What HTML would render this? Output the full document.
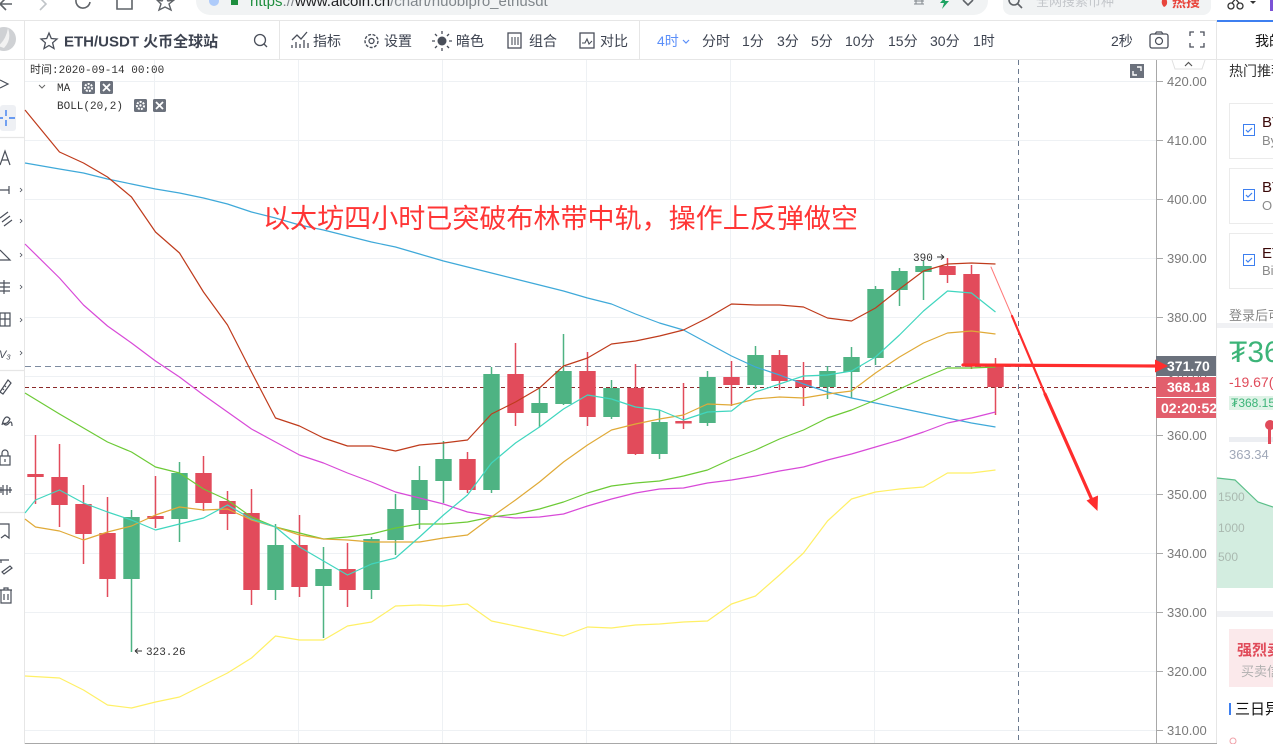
<!DOCTYPE html>
<html>
<head>
<meta charset="utf-8">
<style>
html,body{margin:0;padding:0;background:#fff;width:1273px;height:744px;overflow:hidden}
svg{display:block}
.ui{font-family:"Liberation Sans","Noto Sans CJK SC",sans-serif}
.mono{font-family:"Liberation Mono","Noto Sans CJK SC",monospace}
</style>
</head>
<body>
<svg width="1273" height="744" viewBox="0 0 1273 744" xmlns="http://www.w3.org/2000/svg">
<rect width="1273" height="744" fill="#fff"/>

<!-- ===== Browser bar ===== -->
<g>
  <path d="M0,4 L6,-2 M0,4 L6,10 M0,4 L12,4" stroke="#5f6368" stroke-width="1.6" fill="none"/>
  <path d="M40,-2 L46,4 L40,10" stroke="#c0c4c8" stroke-width="1.6" fill="none"/>
  <path d="M76,0 A7,7 0 1 0 90,2" stroke="#5f6368" stroke-width="1.6" fill="none"/>
  <path d="M117,-2 L117,9 L132,9 L132,-2" stroke="#5f6368" stroke-width="1.6" fill="none"/>
  <path d="M157,0 L162,1 L165,-4 L168,1 L174,0 L169,4 L171,10 L165,7 L159,10 L161,4 Z" stroke="#5f6368" stroke-width="1.4" fill="none"/>
  <rect x="196" y="-14" width="792" height="29" rx="14" fill="#f1f3f4"/>
  <circle cx="214" cy="1" r="5" fill="#aecbfa"/>
  <rect x="231" y="-4" width="7" height="9" fill="#1e8e3e"/>
  <text x="250" y="6" font-size="15" class="ui"><tspan fill="#1e8e3e">https</tspan><tspan fill="#80868b">://</tspan><tspan fill="#202124">www.aicoin.cn</tspan><tspan fill="#80868b">/chart/huobipro_ethusdt</tspan></text>
  <path d="M914,1 h10 M914,4 h10 M916,-2 v6 M922,-2 v6" stroke="#80868b" stroke-width="1"/>
  <path d="M946,-4 L940,3 L944,3 L942,9 L949,1 L945,1 Z" fill="#1ea362"/>
  <path d="M963,0 L968,5 L973,0" stroke="#5f6368" stroke-width="1.6" fill="none"/>
  <rect x="1003" y="-14" width="208" height="29" rx="8" fill="#f1f3f4"/>
  <circle cx="1014" cy="0" r="5" stroke="#5f6368" stroke-width="1.6" fill="none"/>
  <path d="M1018,4 L1022,8" stroke="#5f6368" stroke-width="1.6"/>
  <text x="1036" y="6" font-size="13" fill="#c4c7cb" class="ui">全网搜索币种</text>
  <text x="1172" y="7" font-size="14" font-weight="bold" fill="#e8453c" class="ui">热搜</text>
  <path d="M1163,-2 q-3,5 1,9 q5,-2 2,-9 Z" fill="#e8453c"/>
  <circle cx="1231" cy="6" r="3" stroke="#333" stroke-width="1.3" fill="none"/>
  <circle cx="1240" cy="6" r="3" stroke="#333" stroke-width="1.3" fill="none"/>
  <path d="M1232,3 L1238,-4 M1239,3 L1233,-4" stroke="#333" stroke-width="1.3"/>
  <path d="M1250,1 L1256,1 L1253,4 Z" fill="#333"/>
  <rect x="1270" y="-5" width="3" height="16" fill="#7b52d6"/>
</g>

<!-- ===== Toolbar ===== -->
<g>
  <line x1="0" y1="20.5" x2="1273" y2="20.5" stroke="#e6e6e6"/>
  <line x1="0" y1="59.5" x2="1217" y2="59.5" stroke="#e6e6e6"/>
  <line x1="24.5" y1="20" x2="24.5" y2="744" stroke="#e6e6e6"/>
  <line x1="279.5" y1="20" x2="279.5" y2="59" stroke="#e6e6e6"/>
  <line x1="639.5" y1="20" x2="639.5" y2="59" stroke="#e6e6e6"/>
  <line x1="1216.5" y1="20" x2="1216.5" y2="744" stroke="#e6e6e6"/>
  <!-- logo -->
  <circle cx="4" cy="39" r="12" fill="#cfd1d4"/>
  <path d="M-2,46 Q6,40 8,28 Q12,40 4,48 Z" fill="#f2f2f2"/>
  <!-- star -->
  <path d="M49,33 L51.3,38.5 L57,39 L52.6,42.8 L54,48.5 L49,45.5 L44,48.5 L45.4,42.8 L41,39 L46.7,38.5 Z" stroke="#4a4f5a" stroke-width="1.3" fill="none"/>
  <text x="64" y="46.5" font-size="15" font-weight="bold" fill="#3d4350" class="ui">ETH/USDT 火币全球站</text>
  <circle cx="260" cy="40" r="5.5" stroke="#4a4f5a" stroke-width="1.3" fill="none"/>
  <path d="M264,44 L267,47" stroke="#4a4f5a" stroke-width="1.3"/>
  <!-- 指标 -->
  <path d="M292,40 L297,35 L301,39 L307,32 M292,48 v-3 M296,48 v-6 M300,48 v-4 M304,48 v-8 M308,48 v-5" stroke="#4a4f5a" stroke-width="1.3" fill="none"/>
  <text x="313" y="46" font-size="14" fill="#3d4350" class="ui">指标</text>
  <!-- 设置 -->
  <circle cx="371.5" cy="41" r="6.5" stroke="#4a4f5a" stroke-width="1.4" fill="none" stroke-dasharray="3 1.5"/>
  <circle cx="371.5" cy="41" r="2.5" stroke="#4a4f5a" stroke-width="1.3" fill="none"/>
  <text x="384" y="46" font-size="14" fill="#3d4350" class="ui">设置</text>
  <!-- 暗色 -->
  <circle cx="442" cy="41" r="4.5" fill="#4a4f5a"/>
  <path d="M442,31 v3 M442,48 v3 M432,41 h3 M449,41 h3 M435,34 l2,2 M447,46 l2,2 M449,34 l-2,2 M437,46 l-2,2" stroke="#4a4f5a" stroke-width="1.3"/>
  <text x="456" y="46" font-size="14" fill="#3d4350" class="ui">暗色</text>
  <!-- 组合 -->
  <rect x="508" y="33" width="13" height="15" stroke="#4a4f5a" stroke-width="1.3" fill="none"/>
  <path d="M512,37 v8 M515,37 v8 M518,37 v8" stroke="#4a4f5a" stroke-width="1.1"/>
  <text x="529" y="46" font-size="14" fill="#3d4350" class="ui">组合</text>
  <!-- 对比 -->
  <rect x="580" y="33" width="14" height="15" stroke="#4a4f5a" stroke-width="1.3" fill="none"/>
  <path d="M582,43 L585,43 L587,39 L589,44 L592,41" stroke="#4a4f5a" stroke-width="1.1" fill="none"/>
  <text x="600" y="46" font-size="14" fill="#3d4350" class="ui">对比</text>
  <!-- timeframes -->
  <text x="657" y="46" font-size="14" fill="#5b8ff9" class="ui">4时</text>
  <path d="M683,40 L686,43 L689,40" stroke="#5b8ff9" stroke-width="1.2" fill="none"/>
  <g font-size="14" fill="#3d4350" class="ui">
    <text x="702" y="46">分时</text>
    <text x="742" y="46">1分</text>
    <text x="777" y="46">3分</text>
    <text x="811" y="46">5分</text>
    <text x="845" y="46">10分</text>
    <text x="888" y="46">15分</text>
    <text x="930" y="46">30分</text>
    <text x="973" y="46">1时</text>
    <text x="1111" y="46">2秒</text>
  </g>
  <rect x="1150" y="34" width="18" height="14" rx="2" stroke="#4a4f5a" stroke-width="1.3" fill="none"/>
  <circle cx="1159" cy="41" r="3.5" stroke="#4a4f5a" stroke-width="1.2" fill="none"/>
  <path d="M1155,34 l1.5,-2 h5 l1.5,2" stroke="#4a4f5a" stroke-width="1.2" fill="none"/>
  <path d="M1190,36 v-4 h4 M1204,36 v-4 h-4 M1190,43 v4 h4 M1204,43 v4 h-4" stroke="#4a4f5a" stroke-width="1.3" fill="none"/>
  <!-- right panel tab -->
  <rect x="1217" y="20" width="56" height="2" fill="#3d7ff0"/>
  <text x="1255" y="46" font-size="14" fill="#111" class="ui">我的</text>
</g>

<!-- ===== Sidebar ===== -->
<g stroke="#4a4f5a" stroke-width="1.2" fill="none">
  <path d="M0,80 L8,84 L0,88"/>
  <rect x="0" y="105" width="16" height="26" rx="3" fill="#eef0f4" stroke="none"/>
  <path d="M6,110 v6 M6,120 v6 M0,118 h3 M9,118 h6" stroke="#3d7ff0" stroke-width="1.4"/>
  <line x1="0" y1="137.5" x2="24" y2="137.5" stroke="#e6e6e6"/>
  <path d="M0,165 L5,151 L10,165 M2,160 h6"/>
  <path d="M0,190 h9 M9,186 v8"/><path d="M20,188 l2,2 l-2,2" stroke-width="0.8"/>
  <path d="M0,218 l8,-6 M2,222 l8,-6 M4,226 l8,-6"/><path d="M20,219 l2,2 l-2,2" stroke-width="0.8"/>
  <path d="M0,260 L10,260 L0,250"/><path d="M20,253 l2,2 l-2,2" stroke-width="0.8"/>
  <path d="M0,283 h10 M0,287 h10 M0,291 h10 M4,280 v14"/><path d="M20,285 l2,2 l-2,2" stroke-width="0.8"/>
  <rect x="0" y="313" width="10" height="13"/><path d="M5,313 v13 M0,319 h10"/><path d="M20,318 l2,2 l-2,2" stroke-width="0.8"/>
  <text x="-1" y="358" font-size="11" fill="#4a4f5a" stroke="none" class="ui" font-style="italic">V₃</text><path d="M20,351 l2,2 l-2,2" stroke-width="0.8"/>
  <line x1="0" y1="370.5" x2="24" y2="370.5" stroke="#e6e6e6"/>
  <path d="M0,392 L8,380 L11,383 L3,394 Z M2,388 l2,2 M4,385 l2,2"/>
  <path d="M2,425 q3,-12 8,-6 q-3,6 -7,4 M3,423 q3,4 6,0 q3,-3 3,3"/>
  <rect x="0" y="456" width="10" height="9"/><path d="M2,456 v-3 a3,3 0 0 1 6,0 v3 M5,459 v3"/>
  <path d="M0,490 h12 M3,485 v10 M7,485 v10 M1,487 v6 M10,487 v6"/>
  <line x1="0" y1="512.5" x2="24" y2="512.5" stroke="#e6e6e6"/>
  <path d="M0,524 h9 v14 l-4,-3 l-4,3"/>
  <path d="M0,560 h9 M1,563 v-3 M2,572 l8,-6 l2,2 l-8,6 Z"/>
  <path d="M0,590 h12 M4,590 v-2 h4 v2 M1,590 v13 h10 v-13 M4,594 v6 M8,594 v6"/>
</g>

<!-- ===== Chart grid ===== -->
<g stroke="#eef1f4" stroke-width="1">
  <line x1="25" y1="81.5" x2="1156" y2="81.5"/>
  <line x1="25" y1="140.5" x2="1156" y2="140.5"/>
  <line x1="25" y1="199.5" x2="1156" y2="199.5"/>
  <line x1="25" y1="258.5" x2="1156" y2="258.5"/>
  <line x1="25" y1="317.5" x2="1156" y2="317.5"/>
  <line x1="25" y1="376.5" x2="1156" y2="376.5"/>
  <line x1="25" y1="435.5" x2="1156" y2="435.5"/>
  <line x1="25" y1="494.5" x2="1156" y2="494.5"/>
  <line x1="25" y1="553.5" x2="1156" y2="553.5"/>
  <line x1="25" y1="612.5" x2="1156" y2="612.5"/>
  <line x1="25" y1="671.5" x2="1156" y2="671.5"/>
  <line x1="25" y1="730.5" x2="1156" y2="730.5"/>
  <line x1="154.5" y1="60" x2="154.5" y2="743"/>
  <line x1="298.5" y1="60" x2="298.5" y2="743"/>
  <line x1="442.5" y1="60" x2="442.5" y2="743"/>
  <line x1="586.5" y1="60" x2="586.5" y2="743"/>
  <line x1="730.5" y1="60" x2="730.5" y2="743"/>
  <line x1="874.5" y1="60" x2="874.5" y2="743"/>
</g>
<line x1="25" y1="743.5" x2="1217" y2="743.5" stroke="#a8a8a8"/>
<line x1="1156.5" y1="60" x2="1156.5" y2="744" stroke="#a8a8a8"/>
<!-- crosshair / price lines -->
<line x1="1018.5" y1="60" x2="1018.5" y2="743" stroke="#6b7a8f" stroke-dasharray="5 4"/>
<line x1="25" y1="366.5" x2="1156" y2="366.5" stroke="#7d8ba0" stroke-dasharray="6 4"/>
<line x1="25" y1="387.5" x2="1156" y2="387.5" stroke="#8b2a2a" stroke-dasharray="4 3"/>

<!-- ===== Candles ===== -->
<g stroke="#e24b5b" fill="#e24b5b" stroke-width="1.5">
  <line x1="35.5" y1="435" x2="35.5" y2="504"/><rect x="27.3" y="474" width="16.4" height="3" stroke="none"/>
  <line x1="59.5" y1="444" x2="59.5" y2="527"/><rect x="51.3" y="477" width="16.4" height="28" stroke="none"/>
  <line x1="83.5" y1="485" x2="83.5" y2="564"/><rect x="75.3" y="504" width="16.4" height="30" stroke="none"/>
  <line x1="107.5" y1="497" x2="107.5" y2="597"/><rect x="99.3" y="533" width="16.4" height="46" stroke="none"/>
  <line x1="155.5" y1="476" x2="155.5" y2="528"/><rect x="147.3" y="516" width="16.4" height="3" stroke="none"/>
  <line x1="203.5" y1="456" x2="203.5" y2="511"/><rect x="195.3" y="473" width="16.4" height="30" stroke="none"/>
  <line x1="227.5" y1="491" x2="227.5" y2="530"/><rect x="219.3" y="501" width="16.4" height="13" stroke="none"/>
  <line x1="251.5" y1="489" x2="251.5" y2="605"/><rect x="243.3" y="513" width="16.4" height="77" stroke="none"/>
  <line x1="299.5" y1="515" x2="299.5" y2="597"/><rect x="291.3" y="545" width="16.4" height="42" stroke="none"/>
  <line x1="347.5" y1="543" x2="347.5" y2="607"/><rect x="339.3" y="569" width="16.4" height="21" stroke="none"/>
  <line x1="467.5" y1="452" x2="467.5" y2="493"/><rect x="459.3" y="459" width="16.4" height="31" stroke="none"/>
  <line x1="515.5" y1="343" x2="515.5" y2="426"/><rect x="507.3" y="374" width="16.4" height="39" stroke="none"/>
  <line x1="587.5" y1="352" x2="587.5" y2="426"/><rect x="579.3" y="371" width="16.4" height="46" stroke="none"/>
  <line x1="635.5" y1="364" x2="635.5" y2="455"/><rect x="627.3" y="388" width="16.4" height="66" stroke="none"/>
  <line x1="683.5" y1="383" x2="683.5" y2="429"/><rect x="675.3" y="421" width="16.4" height="2.5" stroke="none"/>
  <line x1="731.5" y1="361" x2="731.5" y2="406"/><rect x="723.3" y="377" width="16.4" height="8" stroke="none"/>
  <line x1="779.5" y1="350" x2="779.5" y2="390"/><rect x="771.3" y="355" width="16.4" height="26" stroke="none"/>
  <line x1="803.5" y1="362" x2="803.5" y2="406"/><rect x="795.3" y="380" width="16.4" height="7" stroke="none"/>
  <line x1="947.5" y1="258" x2="947.5" y2="283"/><rect x="939.3" y="266" width="16.4" height="9" stroke="none"/>
  <line x1="971.5" y1="265" x2="971.5" y2="369"/><rect x="963.3" y="274" width="16.4" height="90" stroke="none"/>
  <line x1="995.5" y1="358" x2="995.5" y2="415"/><rect x="987.3" y="366" width="16.4" height="21" stroke="none"/>
</g>
<g stroke="#4eb383" fill="#4eb383" stroke-width="1.5">
  <line x1="131.5" y1="510" x2="131.5" y2="652"/><rect x="123.3" y="517" width="16.4" height="62" stroke="none"/>
  <line x1="179.5" y1="462" x2="179.5" y2="542"/><rect x="171.3" y="473" width="16.4" height="46" stroke="none"/>
  <line x1="275.5" y1="524" x2="275.5" y2="600"/><rect x="267.3" y="545" width="16.4" height="45" stroke="none"/>
  <line x1="323.5" y1="547" x2="323.5" y2="638"/><rect x="315.3" y="569" width="16.4" height="17" stroke="none"/>
  <line x1="371.5" y1="537" x2="371.5" y2="599"/><rect x="363.3" y="539" width="16.4" height="51" stroke="none"/>
  <line x1="395.5" y1="494" x2="395.5" y2="555"/><rect x="387.3" y="509" width="16.4" height="31" stroke="none"/>
  <line x1="419.5" y1="466" x2="419.5" y2="529"/><rect x="411.3" y="480" width="16.4" height="30" stroke="none"/>
  <line x1="443.5" y1="441" x2="443.5" y2="503"/><rect x="435.3" y="459" width="16.4" height="22" stroke="none"/>
  <line x1="491.5" y1="367" x2="491.5" y2="493"/><rect x="483.3" y="374" width="16.4" height="116" stroke="none"/>
  <line x1="539.5" y1="388" x2="539.5" y2="427"/><rect x="531.3" y="403" width="16.4" height="10" stroke="none"/>
  <line x1="563.5" y1="334" x2="563.5" y2="405"/><rect x="555.3" y="371" width="16.4" height="33" stroke="none"/>
  <line x1="611.5" y1="380" x2="611.5" y2="419"/><rect x="603.3" y="388" width="16.4" height="29" stroke="none"/>
  <line x1="659.5" y1="410" x2="659.5" y2="459"/><rect x="651.3" y="422" width="16.4" height="32" stroke="none"/>
  <line x1="707.5" y1="371" x2="707.5" y2="426"/><rect x="699.3" y="377" width="16.4" height="46" stroke="none"/>
  <line x1="755.5" y1="346" x2="755.5" y2="389"/><rect x="747.3" y="355" width="16.4" height="30" stroke="none"/>
  <line x1="827.5" y1="366" x2="827.5" y2="399"/><rect x="819.3" y="371" width="16.4" height="16" stroke="none"/>
  <line x1="851.5" y1="347" x2="851.5" y2="398"/><rect x="843.3" y="357" width="16.4" height="15" stroke="none"/>
  <line x1="875.5" y1="286" x2="875.5" y2="365"/><rect x="867.3" y="289" width="16.4" height="69" stroke="none"/>
  <line x1="899.5" y1="268" x2="899.5" y2="306"/><rect x="891.3" y="271" width="16.4" height="19" stroke="none"/>
  <line x1="923.5" y1="261" x2="923.5" y2="300"/><rect x="915.3" y="266" width="16.4" height="6" stroke="none"/>
</g>

<!-- ===== Indicator lines ===== -->
<g fill="none" stroke-width="1.2" stroke-linejoin="round">
  <polyline stroke="#fff066" points="25,676 59.5,678 83.5,690 107.5,705 131.5,708 155.5,702 179.5,697 203.5,685 227.5,673 251.5,658 275.5,636 299.5,640 323.5,640 347.5,626 371.5,622 395.5,606 419.5,605 443.5,606 467.5,604 491.5,621 515.5,626 539.5,631 563.5,636 587.5,627 611.5,628 635.5,625 659.5,624 683.5,622 707.5,621 731.5,604 755.5,596 779.5,575 803.5,553 827.5,521 851.5,499 875.5,492 899.5,489 923.5,487 947.5,473 971.5,473 995.5,470"/>
  <polyline stroke="#3fa9d9" points="25,163 59.5,169 83.5,173 107.5,179 131.5,184 155.5,189 179.5,193 203.5,198 227.5,204 251.5,212 275.5,218 299.5,225 323.5,230 347.5,236 371.5,242 395.5,247 419.5,254 443.5,261 467.5,267 491.5,273 515.5,279 539.5,285 563.5,291 587.5,298 611.5,304 635.5,314 659.5,323 683.5,330 707.5,343 731.5,356 755.5,367 779.5,375 803.5,384 827.5,392 851.5,398 875.5,403 899.5,408 923.5,413 947.5,418 971.5,423 995.5,427"/>
  <polyline stroke="#d84ad8" points="25,244 59.5,278 83.5,305 107.5,326 131.5,343 155.5,361 179.5,377 203.5,395 227.5,412 251.5,429 275.5,442 299.5,455 323.5,463 347.5,473 371.5,482 395.5,492 419.5,498 443.5,504 467.5,512 491.5,516 515.5,518 539.5,517 563.5,514 587.5,506 611.5,499 635.5,493 659.5,489 683.5,488 707.5,483 731.5,480 755.5,476 779.5,471 803.5,467 827.5,460 851.5,454 875.5,447 899.5,440 923.5,432 947.5,423 971.5,418 995.5,412"/>
  <polyline stroke="#6cca36" points="25,393 59.5,414 83.5,428 107.5,442 131.5,452 155.5,467 179.5,473 203.5,489 227.5,500 251.5,517 275.5,527 299.5,533 323.5,539 347.5,537 371.5,534 395.5,528 419.5,524 443.5,524 467.5,522 491.5,517 515.5,514 539.5,509 563.5,502 587.5,493 611.5,486 635.5,483 659.5,481 683.5,476 707.5,470 731.5,459 755.5,450 779.5,439 803.5,430 827.5,418 851.5,410 875.5,400 899.5,389 923.5,378 947.5,368 971.5,368 995.5,367"/>
  <polyline stroke="#e0aa38" points="25,519 35.5,527 59.5,531 83.5,540 107.5,532 131.5,526 155.5,515 179.5,507 203.5,510 227.5,509 251.5,520 275.5,527 299.5,535 323.5,539 347.5,540 371.5,542 395.5,542 419.5,542 443.5,538 467.5,535 491.5,517 515.5,500 539.5,482 563.5,462 587.5,445 611.5,430 635.5,424 659.5,419 683.5,415 707.5,404 731.5,405 755.5,399 779.5,397 803.5,398 827.5,394 851.5,391 875.5,373 899.5,357 923.5,343 947.5,333 971.5,331 995.5,334"/>
  <polyline stroke="#40d6bf" points="25,513 35.5,500 59.5,490 83.5,503 107.5,512 131.5,520 155.5,530 179.5,524 203.5,518 227.5,505 251.5,519 275.5,527 299.5,547 323.5,561 347.5,575 371.5,564 395.5,558 419.5,537 443.5,515 467.5,495 491.5,463 515.5,443 539.5,427 563.5,409 587.5,395 611.5,399 635.5,407 659.5,410 683.5,420 707.5,412 731.5,411 755.5,392 779.5,384 803.5,376 827.5,375 851.5,371 875.5,357 899.5,335 923.5,311 947.5,291 971.5,293 995.5,312"/>
  <polyline stroke="#bf3b1c" points="25,110 59.5,152 83.5,163 107.5,177 131.5,197 155.5,232 179.5,253 203.5,292 227.5,325 251.5,372 275.5,418 299.5,426 323.5,438 347.5,446 371.5,446 395.5,451 419.5,445 443.5,443 467.5,440 491.5,414 515.5,402 539.5,388 563.5,366 587.5,358 611.5,344 635.5,341 659.5,336 683.5,330 707.5,318 731.5,304 755.5,305 779.5,305 803.5,307 827.5,318 851.5,321 875.5,308 899.5,289 923.5,271 947.5,264 971.5,263 995.5,264"/>
</g>

<!-- ===== Chart overlays ===== -->
<g class="mono" font-size="11" fill="#333">
  <text x="30" y="73">时间:2020-09-14 00:00</text>
  <path d="M39,85 L42,88 L45,85" stroke="#666" stroke-width="1" fill="none"/>
  <text x="57" y="91">MA</text>
  <text x="57" y="109">BOLL(20,2)</text>
  <text x="146" y="655">323.26</text>
  <path d="M135,651 h7 M135,651 l3,-2.5 M135,651 l3,2.5" stroke="#333" stroke-width="1" fill="none"/>
  <text x="913" y="261">390</text>
  <path d="M937,257 h7 M944,257 l-3,-2.5 M944,257 l-3,2.5" stroke="#333" stroke-width="1" fill="none"/>
</g>
<g>
  <rect x="82" y="81" width="13" height="13" rx="1.5" fill="#6b717c"/>
  <circle cx="88.5" cy="87.5" r="3.6" fill="none" stroke="#fff" stroke-width="2" stroke-dasharray="2 1.2"/>
  <circle cx="88.5" cy="87.5" r="1.2" fill="#fff"/>
  <rect x="100" y="81" width="13" height="13" rx="1.5" fill="#6b717c"/>
  <path d="M103,84 l7,7 M110,84 l-7,7" stroke="#fff" stroke-width="1.8"/>
  <rect x="134" y="99" width="13" height="13" rx="1.5" fill="#6b717c"/>
  <circle cx="140.5" cy="105.5" r="3.6" fill="none" stroke="#fff" stroke-width="2" stroke-dasharray="2 1.2"/>
  <circle cx="140.5" cy="105.5" r="1.2" fill="#fff"/>
  <rect x="153" y="99" width="13" height="13" rx="1.5" fill="#6b717c"/>
  <path d="M156,102 l7,7 M163,102 l-7,7" stroke="#fff" stroke-width="1.8"/>
  <!-- expand icon -->
  <rect x="1130" y="64" width="14" height="14" fill="#6b717c"/>
  <path d="M1133,71 v4 h4 M1141,71 v-4 h-4" stroke="#fff" stroke-width="1.4" fill="none"/>
</g>

<text x="263" y="228" font-size="27" fill="#ff3535" class="ui" textLength="595" lengthAdjust="spacingAndGlyphs">以太坊四小时已突破布林带中轨，操作上反弹做空</text>

<!-- ===== Price axis ===== -->
<path d="M1172,60 L1175,69 L1202,69 L1205,60" stroke="#e0e0e0" fill="#fff"/>
<path d="M1185,66 L1188.5,62.5 L1192,66" stroke="#555" stroke-width="1.2" fill="none"/>
<g stroke="#a8a8a8">
  <line x1="1157" y1="81.5" x2="1163" y2="81.5"/>
  <line x1="1157" y1="140.5" x2="1163" y2="140.5"/>
  <line x1="1157" y1="199.5" x2="1163" y2="199.5"/>
  <line x1="1157" y1="258.5" x2="1163" y2="258.5"/>
  <line x1="1157" y1="317.5" x2="1163" y2="317.5"/>
  <line x1="1157" y1="435.5" x2="1163" y2="435.5"/>
  <line x1="1157" y1="494.5" x2="1163" y2="494.5"/>
  <line x1="1157" y1="553.5" x2="1163" y2="553.5"/>
  <line x1="1157" y1="612.5" x2="1163" y2="612.5"/>
  <line x1="1157" y1="671.5" x2="1163" y2="671.5"/>
  <line x1="1157" y1="730.5" x2="1163" y2="730.5"/>
</g>
<g font-size="13" fill="#7a7a7a" class="ui">
  <text x="1167" y="86">420.00</text>
  <text x="1167" y="145">410.00</text>
  <text x="1167" y="204">400.00</text>
  <text x="1167" y="263">390.00</text>
  <text x="1167" y="322">380.00</text>
  <text x="1167" y="381">370.00</text>
  <text x="1167" y="440">360.00</text>
  <text x="1167" y="499">350.00</text>
  <text x="1167" y="558">340.00</text>
  <text x="1167" y="617">330.00</text>
  <text x="1167" y="676">320.00</text>
  <text x="1167" y="735">310.00</text>
</g>
<rect x="1156" y="356" width="60" height="20" fill="#6b717c"/>
<rect x="1156" y="377" width="60" height="20" fill="#e25f6d"/>
<rect x="1156" y="398" width="60" height="20" fill="#e25f6d"/>
<g font-size="14" font-weight="bold" fill="#fff" class="ui">
  <text x="1167" y="371">371.70</text>
  <text x="1167" y="392">368.18</text>
  <text x="1161" y="413">02:20:52</text>
</g>

<!-- ===== Red annotation arrows ===== -->
<g fill="#ff2d2d" stroke="#ff2d2d" stroke-linecap="round">
  <line x1="963" y1="365" x2="1157" y2="366" stroke-width="3.2"/>
  <polygon points="1155,359.5 1168,366 1155,372.5" stroke="none"/>
  <line x1="991" y1="267" x2="1012" y2="316" stroke="#ff7a7a" stroke-width="1"/>
  <line x1="1012" y1="316" x2="1045" y2="394" stroke-width="2.2"/>
  <line x1="1045" y1="394" x2="1092" y2="500" stroke-width="3.2"/>
  <polygon points="1086.5,500.5 1097.5,511 1098,495.5" stroke="none"/>
</g>

<!-- ===== Right panel ===== -->
<g class="ui">
  <line x1="1217" y1="59.5" x2="1273" y2="59.5" stroke="#e6e6e6"/>
  <text x="1229" y="76" font-size="14" fill="#333">热门推荐</text>
  <rect x="1229.5" y="103.5" width="60" height="55" fill="none" stroke="#ebebeb"/>
  <rect x="1229.5" y="168.5" width="60" height="55" fill="none" stroke="#ebebeb"/>
  <rect x="1229.5" y="233.5" width="60" height="55" fill="none" stroke="#ebebeb"/>
  <g fill="#fff" stroke="#3d7ff0" stroke-width="1">
    <rect x="1243.5" y="124.5" width="11" height="11"/>
    <rect x="1243.5" y="189.5" width="11" height="11"/>
    <rect x="1243.5" y="254.5" width="11" height="11"/>
  </g>
  <g fill="none" stroke="#3d7ff0" stroke-width="1.2">
    <path d="M1246,130 l2,2 l4,-4"/>
    <path d="M1246,195 l2,2 l4,-4"/>
    <path d="M1246,260 l2,2 l4,-4"/>
  </g>
  <text x="1262" y="127" font-size="15" fill="#3a0808">BTC</text>
  <text x="1262" y="145" font-size="13" fill="#8a8a8a">Bybit</text>
  <text x="1262" y="192" font-size="15" fill="#3a0808">BTC</text>
  <text x="1262" y="210" font-size="13" fill="#8a8a8a">OKEx</text>
  <text x="1262" y="258" font-size="15" fill="#3a0808">ETH</text>
  <text x="1262" y="275" font-size="13" fill="#8a8a8a">Binance</text>
  <text x="1229" y="320" font-size="13" fill="#888">登录后可</text>
  <rect x="1217" y="323" width="56" height="5" fill="#f0f1f4"/>
  <text x="1229" y="362" font-size="30" fill="#3cb478">₮36</text>
  <text x="1229" y="387" font-size="14" fill="#e04b5a">-19.67(-</text>
  <rect x="1229" y="396" width="44" height="14" fill="#dff3e7"/>
  <text x="1231" y="407" font-size="12" fill="#3cb478">₮368.15</text>
  <rect x="1229" y="437" width="44" height="5" fill="#eceef2"/>
  <circle cx="1270" cy="425" r="5" fill="#e04b5a"/>
  <rect x="1268" y="428" width="3" height="16" fill="#e04b5a"/>
  <text x="1229" y="459" font-size="13" fill="#a0a8b8">363.34</text>
  <path d="M1217,478 L1235,480 L1258,502 L1273,507 L1273,588 L1217,588 Z" fill="#d3ede0"/>
  <path d="M1217,478 L1235,480 L1258,502 L1273,507" fill="none" stroke="#5cbf8a" stroke-width="1.2"/>
  <text x="1218" y="501" font-size="12" fill="#aab9b0">1500</text>
  <text x="1218" y="532" font-size="12" fill="#aab9b0">1000</text>
  <text x="1218" y="561" font-size="12" fill="#aab9b0">500</text>
  <rect x="1217" y="611" width="56" height="6" fill="#f0f1f4"/>
  <rect x="1229" y="629" width="44" height="58" fill="#fbe9eb"/>
  <text x="1237" y="655" font-size="15" font-weight="bold" fill="#e04b5a">强烈卖出</text>
  <text x="1241" y="676" font-size="13" fill="#b0b0b0">买卖信号</text>
  <rect x="1229" y="703" width="2" height="12" fill="#3d7ff0"/>
  <text x="1235" y="714" font-size="15" fill="#111">三日异动</text>
  <circle cx="1233" cy="741" r="3" fill="none" stroke="#f0a0a8"/>
</g>
</svg>
</body>
</html>
